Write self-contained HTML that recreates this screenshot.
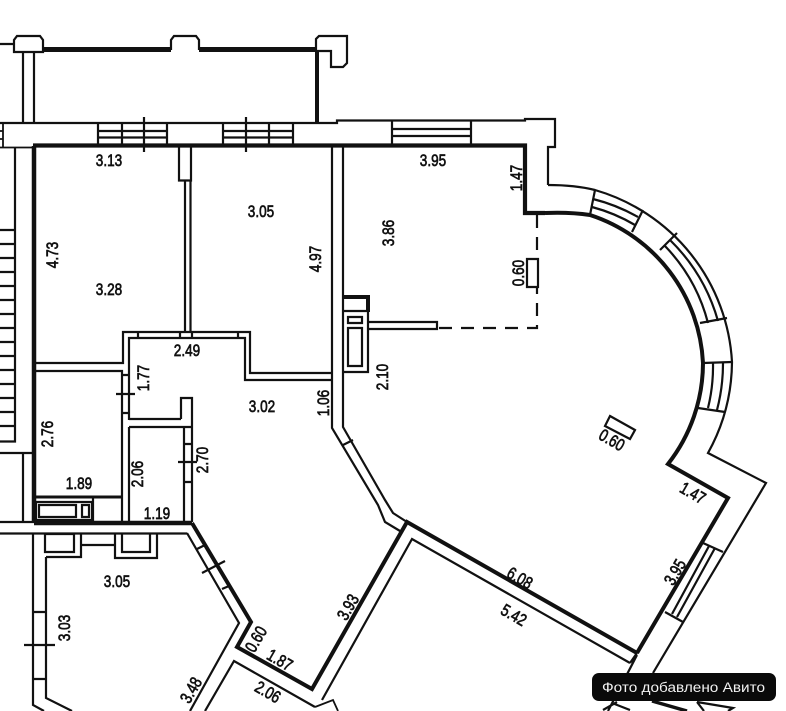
<!DOCTYPE html>
<html><head><meta charset="utf-8">
<style>
html,body{margin:0;padding:0;background:#fff}
svg{display:block}
.t text{font-family:"Liberation Sans",sans-serif;font-size:17px;text-anchor:middle;fill:#111;stroke:#111;stroke-width:.7}
</style></head><body>
<svg width="786" height="711" viewBox="0 0 786 711" xmlns="http://www.w3.org/2000/svg">
<rect width="786" height="711" fill="#fff"/>
<g fill="none" stroke="#111" stroke-width="2.2">
<!-- balcony -->
<path d="M0 44H14M14 52V40L17 36H40L43 40V52ZM171 50V40L174 36H196L199 40V50M316 51V39L319 36H347V63L343 67H331V51H316"/>
<path d="M23 52V123M34 52V123"/>
<path d="M43 49.500H171M199 49.500H316" stroke-width="5"/>
<path d="M317 52V122" stroke-width="4"/>
<!-- top band -->
<path d="M0 123H337V120.500H525V119H555V147H548V185"/>
<path d="M33 145.500H525V213H545" stroke-width="4.200"/>
<path d="M0 147.500H33M3 123V147M0 131H3M0 139H3" stroke-width="1.800"/>
<path d="M98 123V145M167 123V145M122 123V145M98 131H167M98 137.500H167M144 117V152M223 123V145M293 123V145M269 123V145M223 131H293M223 137.500H293M246 117V152M392 121V145M471 121V145M392 129H471M392 136H471"/>
<!-- left outer -->
<path d="M15 148V441.500H0M0 230H15M0 244H15M0 258H15M0 272H15M0 286H15M0 300H15M0 314H15M0 328H15M0 342H15M0 356H15M0 370H15M0 384H15M0 398H15M0 412H15M0 426H15M0 453H34M23 453V522M0 522H34M0 533.500H187M33 533V705L44 711"/>
<path d="M34 146V523" stroke-width="4.500"/>
<!-- partition -->
<path d="M179 146V180.500H191V146M185 181V332M190.500 181V332"/>
<!-- right wall -->
<path d="M332 146V428L378 505L385 522L400 531M343 146V427L385 500L393 513L407 522M343 445L353 440"/>
<!-- vestibule -->
<path d="M35 363H123V332H250V373H332M129 420V338H245V380H332M35 371H122V523M138 332V338M180 332V338M192 332V338M238 332V338M122 375H129M122 413H129M116 394H135M129 419H181M129 427H184V522M129 427V522M181 419V398H192V522M181 427H192M184 444H192M184 482H192M178 462H197"/>
<!-- bathroom -->
<path d="M35 497H122" stroke-width="3"/>
<path d="M34 523H192" stroke-width="4.500"/>
<path d="M36 502H92V520H36ZM39 505H76V517H39ZM82 505H89V517H82ZM93 497V522"/>
<!-- lower room -->
<path d="M45 534H74V552H45ZM46 557H81V534M82 545H115M115 534V558H157V534M122 534V552H150V534M46 557V698L72 711M33 612H46M33 679H46M24 645H55"/>
<path d="M187 533L239 623L190 711M205 711L234 661L315 707M322 700L412 539L630 663M197 549L205 545M202 573L225 561M222 589L229 586"/>
<path d="M192 523L251 622L237 647L312 689L407 522L637 653" stroke-width="4"/>
<path d="M315 707L333 700L338 711" stroke-width="1.800"/>
<!-- kitchen -->
<path d="M343 297H368V312" stroke-width="4"/>
<path d="M343 311H368V372H343M348 317H362V323H348ZM348 328H362V366H348ZM368 322H437V329H368"/>
<path d="M537 215V328H437" stroke-dasharray="13 9"/>
<path d="M527 259H538V287H527Z" fill="#fff"/>
<path d="M610 416L635 430L630 439L605 426Z"/>
<!-- curved wall -->
<path d="M545 213Q570 212 590 215A164 164 0 0 1 703 363A164 164 0 0 1 668 464L728 498L637 653" stroke-width="4"/>
<path d="M548 185Q575 185 595 190A190 190 0 0 1 732 362A190 190 0 0 1 708 453L766 483L653 673"/>
<path d="M590 215L595 190M632 232L643 210M660 250L677 233M700 323L727 318M703 363L732 362M698 408L725 412"/>
<path d="M592 207A171 171 0 0 1 635 225M593 199A179 179 0 0 1 638 217M665 246A174 174 0 0 1 708 323M670 240A183 183 0 0 1 718 321M713 363A174 174 0 0 1 708 408M723 363A183 183 0 0 1 717 410"/>
<!-- lower right window -->
<path d="M703 543L723 552M665 612L683 622M709 546L672 614M715 548L677 617"/>
<path d="M630 663L637 653M637 655L608 711M603 710L617 702M612 703L630 710M697 702L733 708L728 711M697 702L704 711"/>
<path d="M652 701L687 711" stroke-width="3.500"/>
</g>
<g class="t">
<text transform="translate(109,166) scale(.8,1)">3.13</text>
<text transform="translate(261,217) scale(.8,1)">3.05</text>
<text transform="translate(109,295) scale(.8,1)">3.28</text>
<text transform="translate(58,255) rotate(-90) scale(.8,1)">4.73</text>
<text transform="translate(321,259) rotate(-90) scale(.8,1)">4.97</text>
<text transform="translate(187,356) scale(.8,1)">2.49</text>
<text transform="translate(433,166) scale(.8,1)">3.95</text>
<text transform="translate(522,178) rotate(-90) scale(.8,1)">1.47</text>
<text transform="translate(394,233) rotate(-90) scale(.8,1)">3.86</text>
<text transform="translate(524,273) rotate(-90) scale(.8,1)">0.60</text>
<text transform="translate(388,377) rotate(-90) scale(.8,1)">2.10</text>
<text transform="translate(609,445) rotate(30) scale(.8,1)">0.60</text>
<text transform="translate(149,378) rotate(-90) scale(.8,1)">1.77</text>
<text transform="translate(53,434) rotate(-90) scale(.8,1)">2.76</text>
<text transform="translate(262,412) scale(.8,1)">3.02</text>
<text transform="translate(329,403) rotate(-90) scale(.8,1)">1.06</text>
<text transform="translate(79,489) scale(.8,1)">1.89</text>
<text transform="translate(143,474) rotate(-90) scale(.8,1)">2.06</text>
<text transform="translate(208,460) rotate(-90) scale(.8,1)">2.70</text>
<text transform="translate(157,519) scale(.8,1)">1.19</text>
<text transform="translate(117,587) scale(.8,1)">3.05</text>
<text transform="translate(70,628) rotate(-90) scale(.8,1)">3.03</text>
<text transform="translate(196,693) rotate(-60) scale(.8,1)">3.48</text>
<text transform="translate(261,642) rotate(-60) scale(.8,1)">0.60</text>
<text transform="translate(277,665) rotate(30) scale(.8,1)">1.87</text>
<text transform="translate(265,697) rotate(30) scale(.8,1)">2.06</text>
<text transform="translate(353,610) rotate(-60) scale(.8,1)">3.93</text>
<text transform="translate(517,583) rotate(30) scale(.8,1)">6.08</text>
<text transform="translate(511,620) rotate(30) scale(.8,1)">5.42</text>
<text transform="translate(680,575) rotate(-60) scale(.8,1)">3.95</text>
<text transform="translate(690,498) rotate(30) scale(.8,1)">1.47</text>
</g>
<rect x="592" y="673" width="184" height="28" rx="7" fill="#0a0a0a"/>
<text x="602" y="692" font-family="'Liberation Sans',sans-serif" font-size="13.500" fill="#f2f2f2" textLength="163" lengthAdjust="spacingAndGlyphs">Фото добавлено Авито</text>
</svg>
</body></html>
